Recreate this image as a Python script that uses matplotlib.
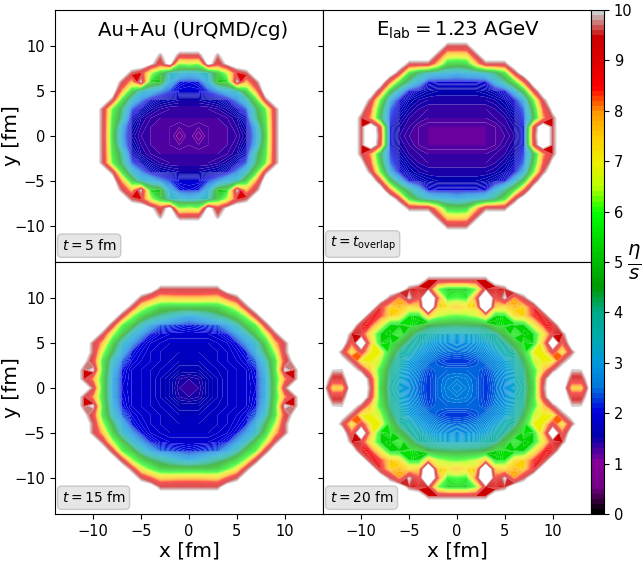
import numpy as np
import matplotlib
matplotlib.use("Agg")
import matplotlib.pyplot as plt

# eta/s on a 1 fm grid, upper right quadrant only (the
# maps are mirror symmetric). rows are y = 0, 1, 2..., columns x = 0, 1, 2...
# anything not listed is outside the fireball (above the top level, stays white)
outside = 10.8

eta_s_t5 = [
    [1.25, 1.1, 1.25, 1.3, 1.3, 1.35, 1.5, 2.8, 5.2, 9.5],
    [1.25, 1.2, 1.25, 1.3, 1.3, 1.4, 1.6, 3.0, 5.4, 9.5],
    [1.3, 1.3, 1.3, 1.3, 1.35, 1.45, 1.8, 4.0, 5.6, 9.5],
    [1.35, 1.35, 1.35, 1.4, 1.5, 1.7, 2.3, 4.2, 6.0, 9.5],
    [1.5, 1.5, 1.55, 1.6, 1.8, 2.5, 3.5, 5.5, 9.5],
    [1.9, 1.9, 2.2, 2.6, 3.2, 3.5, 5.2, 8.0],
    [2.0, 2.1, 3.0, 5.0, 5.4, 10.05, 7.7, 9.5],
    [3.2, 3.4, 3.6, 5.0, 6.6, 9.0, 9.5],
    [6.5, 6.2, 10.5, 9.0, 10.2],
    [9.5, 9.5, 10.8, 9.7],
]

eta_s_overlap = [
    [1.15, 1.15, 1.15, 1.2, 1.25, 1.3, 1.4, 2.0, 9.3, 11.0, 9.5],
    [1.2, 1.2, 1.2, 1.2, 1.25, 1.35, 1.45, 2.0, 9.0, 11.0, 9.5],
    [1.3, 1.3, 1.3, 1.3, 1.35, 1.4, 1.55, 2.2, 4.5, 8.0, 9.5],
    [1.35, 1.35, 1.35, 1.35, 1.4, 1.5, 1.7, 2.4, 5.0, 8.5, 10.3],
    [1.45, 1.45, 1.45, 1.45, 1.5, 1.6, 1.9, 3.0, 6.0, 9.5],
    [1.55, 1.55, 1.55, 1.6, 1.7, 1.95, 3.2, 5.0, 9.0],
    [1.9, 1.9, 1.9, 1.95, 3.0, 4.0, 5.5, 8.5],
    [3.0, 3.2, 3.3, 3.6, 4.2, 5.5, 9.2],
    [5.0, 5.2, 7.5, 9.5, 9.5, 9.5],
    [7.2, 7.3, 9.5],
    [9.5, 9.5],
]

eta_s_t15 = [
    [1.35, 1.4, 1.6, 1.7, 1.8, 1.85, 1.9, 2.0, 3.0, 5.2, 9.5],
    [1.4, 1.45, 1.6, 1.7, 1.8, 1.85, 1.9, 2.05, 3.0, 5.3, 8.0, 9.5],
    [1.6, 1.6, 1.7, 1.75, 1.8, 1.85, 1.9, 2.1, 3.2, 5.5, 10.1, 9.5],
    [1.7, 1.7, 1.75, 1.8, 1.85, 1.9, 2.0, 2.4, 3.6, 5.5, 9.0, 10.3],
    [1.75, 1.75, 1.8, 1.8, 1.85, 1.95, 2.1, 3.0, 4.5, 6.5, 9.5],
    [1.8, 1.8, 1.8, 1.85, 1.9, 2.05, 2.7, 3.5, 5.2, 7.7, 9.5],
    [1.9, 1.9, 1.9, 1.95, 2.1, 2.7, 3.5, 5.0, 6.6, 9.5],
    [2.1, 2.2, 2.3, 2.4, 2.9, 3.7, 5.0, 6.0, 9.3],
    [3.0, 3.2, 3.6, 4.0, 4.5, 5.2, 6.5, 9.3],
    [5.0, 5.0, 5.0, 5.2, 6.0, 7.0, 9.5],
    [7.7, 7.7, 7.6, 7.5, 8.5, 9.5],
    [9.5, 9.5, 9.5, 9.5],
]

eta_s_t20 = [
    [2.7, 2.6, 2.45, 2.25, 2.45, 2.8, 3.25, 3.85, 5.2, 9.5, 11.0, 11.0, 7.5, 7.5],
    [2.6, 2.55, 2.45, 2.25, 2.5, 2.85, 3.3, 3.9, 5.4, 9.2, 11.0, 11.0, 9.2, 9.2],
    [2.45, 2.45, 2.45, 2.3, 2.6, 2.95, 3.4, 4.1, 5.6, 7.5, 9.5, 10.5, 9.95, 9.95],
    [2.25, 2.25, 2.35, 2.55, 2.8, 3.1, 3.6, 4.4, 6.5, 7.0, 7.0, 9.5, 10.4],
    [2.45, 2.5, 2.6, 2.8, 3.1, 3.5, 3.9, 5.2, 7.0, 7.0, 9.0, 7.0, 9.5],
    [2.8, 2.85, 2.95, 3.15, 3.5, 3.9, 4.8, 5.6, 5.4, 7.7, 11.5, 8.5],
    [3.25, 3.3, 3.4, 3.65, 3.9, 4.8, 5.8, 5.3, 5.4, 7.0, 9.0, 9.5],
    [4.3, 4.35, 4.4, 4.5, 5.3, 5.6, 5.3, 5.4, 7.0, 8.5, 8.9],
    [6.0, 6.2, 6.5, 7.6, 5.4, 5.6, 7.2, 7.5, 8.5, 8.9],
    [7.6, 7.2, 7.5, 13.0, 7.5, 7.3, 7.7, 7.5, 8.9],
    [6.0, 5.8, 8.5, 13.0, 8.5, 10.05, 8.0, 9.5],
    [5.3, 5.3, 6.2, 9.5, 9.0, 9.5],
    [9.5, 9.5, 9.5, 9.5],
]

panel_labels = [r"$t = 5$ fm", r"$t = t_{\mathrm{overlap}}$", r"$t = 15$ fm", r"$t = 20$ fm"]
panel_data = [eta_s_t5, eta_s_overlap, eta_s_t15, eta_s_t20]
ticks = [-10, -5, 0, 5, 10]


def mirror_quadrant(rows):
    quadrant = np.full((15, 15), outside)
    for j, row in enumerate(rows):
        quadrant[j, :len(row)] = row
    upper = np.hstack([quadrant[:, :0:-1], quadrant])
    return np.vstack([upper[:0:-1], upper])


W, H = 642, 562
fig = plt.figure(figsize=(W / 100, H / 100), dpi=100)

grid = np.arange(-14, 15)
levels = np.arange(0, 10.01, 0.05)
cmap = plt.get_cmap("nipy_spectral").resampled(100)

lefts = [55, 323]
tops = [10, 262]
for i, (data, label) in enumerate(zip(panel_data, panel_labels)):
    col = i % 2
    row = i // 2
    ax = fig.add_axes([lefts[col] / W, 1 - (tops[row] + 252) / H, 268 / W, 252 / H])
    cs = ax.contourf(grid, grid, mirror_quadrant(data), levels=levels, cmap=cmap,
                     vmin=0, vmax=10, antialiased=True)
    ax.set_xlim(-14, 14)
    ax.set_ylim(-14, 14)
    ax.set_xticks(ticks)
    ax.set_yticks(ticks)
    ax.tick_params(labelsize=10.5, labelleft=col == 0, labelbottom=row == 1, bottom=row == 1)
    if row == 1:
        ax.set_xlabel("x [fm]", fontsize=14.5, labelpad=2)
    if col == 0:
        ax.set_ylabel("y [fm]", fontsize=14.5)
        ax.yaxis.set_label_coords(-34 / 268, 0.5)
    ax.text(0.025, 0.035, label, transform=ax.transAxes, fontsize=10, ha="left", va="bottom",
            bbox=dict(boxstyle="round", facecolor="lightgray", edgecolor="darkgray", alpha=0.55))
    if i == 0:
        ax.text(0.515, 0.92, "Au+Au (UrQMD/cg)", transform=ax.transAxes, fontsize=14.2,
                ha="center", va="center")
    if i == 1:
        ax.text(0.505, 0.92, r"$\mathrm{E_{lab} = 1.23}$ AGeV", transform=ax.transAxes, fontsize=14.2,
                ha="center", va="center")

cax = fig.add_axes([591 / W, 1 - 514 / H, 13 / W, 504 / H])
cbar = fig.colorbar(cs, cax=cax, ticks=range(11))
cbar.ax.tick_params(labelsize=10.5)
fig.text(634 / W, 1 - 262 / H, r"$\frac{\eta}{s}$", fontsize=20, ha="center", va="center")

fig.savefig("out.png", dpi=100)
